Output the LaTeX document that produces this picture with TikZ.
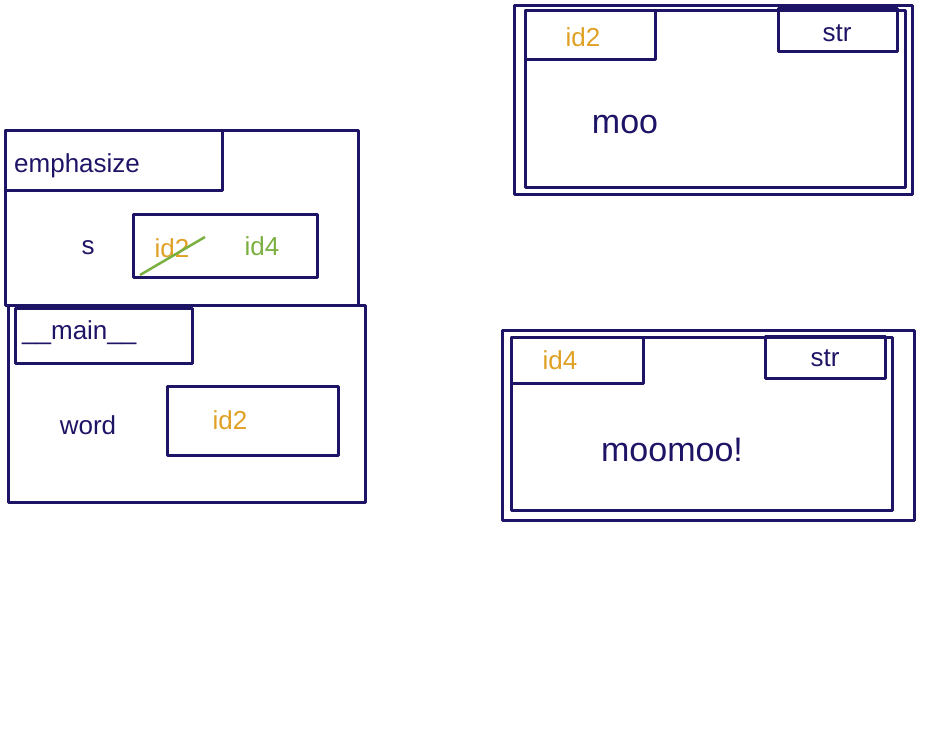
\documentclass[tikz,border=0pt]{standalone}
\usepackage{fontspec}
\setmainfont{Liberation Sans}
\begin{document}
\begin{tikzpicture}[x=1pt,y=-1pt,
  ink/.style={draw=navy,line width=3pt,line join=round},
  lbl/.style={text=navy,font=\fontsize{26}{28}\selectfont,inner sep=0pt},
  idl/.style={text=idorange,font=\fontsize{26}{28}\selectfont,inner sep=0pt}]
\definecolor{navy}{HTML}{1E1466}
\definecolor{idorange}{HTML}{E0A024}
\definecolor{idgreen}{HTML}{7AB040}
\useasboundingbox (0,0) rectangle (931,754);
% emphasize frame
\draw[ink] (5,131) rectangle (358,305);
\draw[ink] (5,131) rectangle (222,191);
\node[lbl,anchor=west] (fe) at (14,166) {emphasize};
\node[lbl] (s) at (88,248) {s};
\draw[ink] (133,214) rectangle (317,277);
\node[idl] (old) at (172,248) {id2};
\node[text=idgreen,font=\fontsize{26}{28}\selectfont,inner sep=0pt] (new) at (262,246) {id4};
\draw[idgreen,line width=2.5pt] (140,275) -- (205,237);
% main frame
\draw[ink] (8,305) rectangle (365,502);
\draw[ink] (15,308) rectangle (192,363);
\node[lbl,anchor=west] (fm) at (22,333) {\_\_main\_\_};
\node[lbl] (w) at (88,425) {word};
\draw[ink] (167,386) rectangle (338,455);
\node[idl] (wv) at (230,420) {id2};
% object id2
\draw[ink] (514,6) rectangle (912,195);
\draw[ink] (525,11) rectangle (905,188);
\draw[ink] (525,11) rectangle (655,60);
\node[idl] (i2) at (583,37) {id2};
\draw[ink] (778,9) rectangle (897,52);
\node[lbl] (t2) at (837,33) {str};
\node[lbl,font=\fontsize{34}{36}\selectfont] (v2) at (625,125) {moo};
% object id4
\draw[ink] (502,330) rectangle (914,520);
\draw[ink] (511,337) rectangle (892,510);
\draw[ink] (511,337) rectangle (643,383);
\node[idl] (i4) at (560,360) {id4};
\draw[ink] (765,336) rectangle (885,378);
\node[lbl] (t4) at (825,358) {str};
\node[lbl,font=\fontsize{34}{36}\selectfont] (v4) at (672,450) {moomoo!};
\end{tikzpicture}
\end{document}
